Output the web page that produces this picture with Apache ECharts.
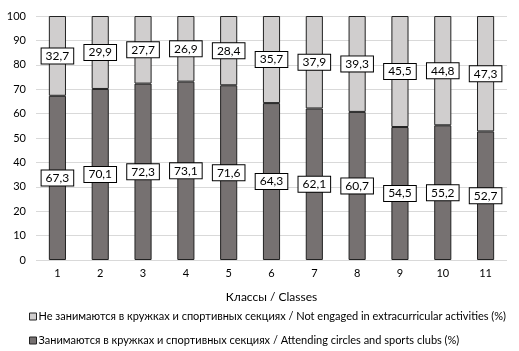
<!DOCTYPE html>
<html><head><meta charset="utf-8">
<script src="https://cdn.jsdelivr.net/npm/echarts@6/dist/echarts.min.js"></script>
<style>html,body{margin:0;padding:0;background:#fff}#c{width:519px;height:351px}</style>
</head><body><div id="c"></div>
<script>
const categories = ['1','2','3','4','5','6','7','8','9','10','11'];
const attending = [67.3, 70.1, 72.3, 73.1, 71.6, 64.3, 62.1, 60.7, 54.5, 55.2, 52.7];
const notEngaged = [32.7, 29.9, 27.7, 26.9, 28.4, 35.7, 37.9, 39.3, 45.5, 44.8, 47.3];
const yTicks = [0,10,20,30,40,50,60,70,80,90,100];
const nameAttending = 'Занимаются в кружках и спортивных секциях / Attending circles and sports clubs (%)';
const nameNot = 'Не занимаются в кружках и спортивных секциях / Not engaged in extracurricular activities (%)';
const colorDark = '#767171', colorLight = '#d0cece';

const font = 'Lato';
const labelStyle = {
  show: true, position: 'inside',
  formatter: p => p.value.toFixed(1).replace('.', ','),
  backgroundColor: '#fff', borderColor: '#000', borderWidth: 1,
  padding: [2, 4, 1, 4], color: '#000', fontSize: 12, fontFamily: font
};
const legendBase = {
  orient: 'horizontal', left: 29, padding: 0,
  itemWidth: 7, itemHeight: 7, icon: 'rect',
  textStyle: {fontSize: 11, fontFamily: font, color: '#000', padding: [0,0,0,-3]}
};
const chart = echarts.init(document.getElementById('c'));
chart.setOption({
  animation: false,
  grid: {left: 36, right: 12, top: 16, bottom: 91, containLabel: false},
  legend: [
    Object.assign({}, legendBase, {top: 311, data: [{name: nameNot, itemStyle: {color: colorLight, borderColor: '#222', borderWidth: 1}}]}),
    Object.assign({}, legendBase, {top: 335, data: [{name: nameAttending, itemStyle: {color: colorDark, borderColor: '#222', borderWidth: 1}}]})
  ],
  xAxis: {
    type: 'category', data: categories,
    name: 'Классы / Classes', nameLocation: 'middle', nameGap: 31,
    nameTextStyle: {fontSize: 12, fontFamily: font, color: '#000'},
    axisLine: {show: false}, axisTick: {show: false},
    axisLabel: {fontSize: 11, fontFamily: font, color: '#000', margin: 8}
  },
  yAxis: {
    type: 'value', min: yTicks[0], max: yTicks[yTicks.length-1], interval: 10,
    axisLine: {show: false}, axisTick: {show: false},
    axisLabel: {fontSize: 11, fontFamily: font, color: '#000', margin: 10},
    splitLine: {lineStyle: {color: '#d9d9d9', width: 1}}
  },
  series: [
    {name: nameAttending, type: 'bar', stack: 's', data: attending, barWidth: '40%',
     itemStyle: {color: colorDark, borderColor: '#222', borderWidth: 1}, label: labelStyle},
    {name: nameNot, type: 'bar', stack: 's', data: notEngaged, barWidth: '40%',
     itemStyle: {color: colorLight, borderColor: '#222', borderWidth: 1}, label: labelStyle}
  ]
});
</script></body></html>
